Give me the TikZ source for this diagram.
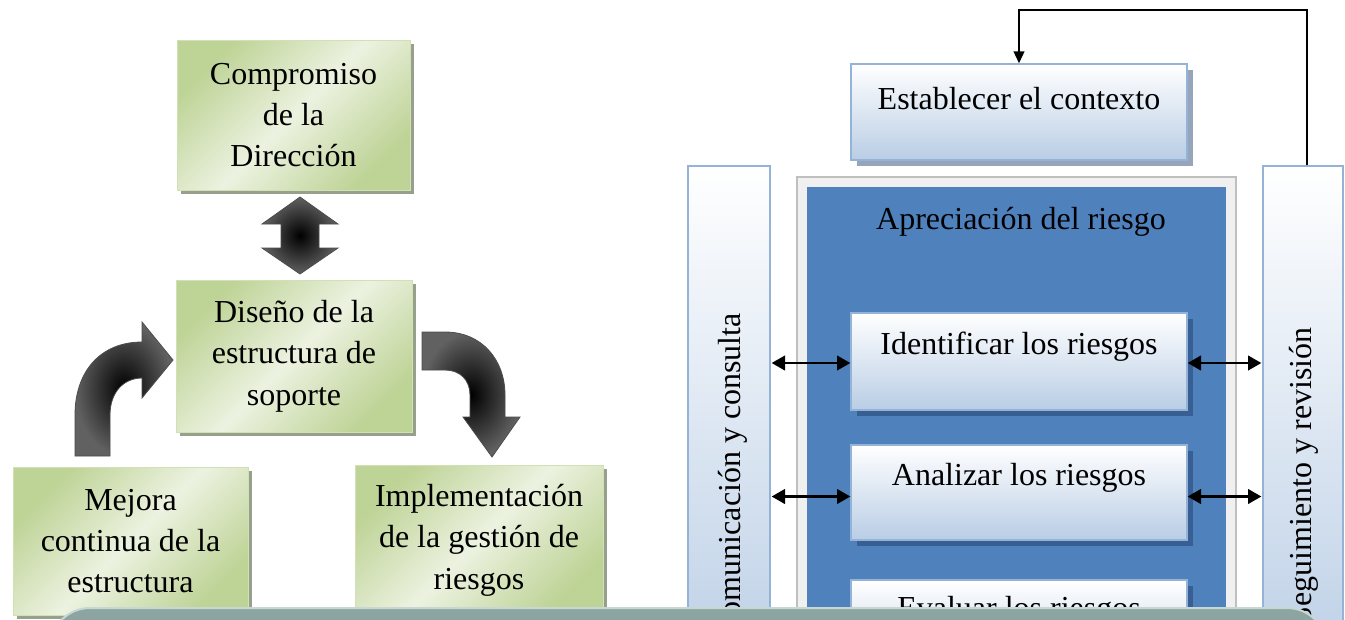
\documentclass[tikz,border=0pt]{standalone}
\usepackage{fontspec}
\setmainfont{Liberation Serif}
\usetikzlibrary{arrows.meta,shadows,calc}
\definecolor{gEdge}{RGB}{190,211,150}
\definecolor{gLight}{RGB}{236,242,224}
\definecolor{gShadow}{RGB}{150,160,140}
\definecolor{bBorder}{RGB}{149,179,215}
\definecolor{bLight}{RGB}{185,205,229}
\definecolor{bMain}{RGB}{79,129,189}
\definecolor{bShadow}{RGB}{56,95,148}
\definecolor{eShadow}{RGB}{150,164,188}
\definecolor{ovl}{RGB}{140,165,162}
\definecolor{ovlEdge}{RGB}{200,215,212}
\newcommand{\bigtxt}{\fontsize{24}{31}\selectfont}
\begin{document}
\begin{tikzpicture}[x=0.75pt,y=-0.75pt,
  gbox/.style={left color=gEdge, right color=gEdge, middle color=gLight, shading angle=45,
    draw=gEdge!70!white, line width=0.5pt, align=center, font=\bigtxt, inner sep=0pt,
    drop shadow={shadow xshift=3pt, shadow yshift=-3pt, fill=gShadow, opacity=1}},
  bbox/.style={top color=white, bottom color=bLight, draw=bBorder, line width=1pt, inner sep=0pt},
  sidepanel/.style={top color=white, bottom color=bLight, draw=bBorder, line width=1pt, inner sep=0pt},
  txt/.style={font=\bigtxt, inner sep=0pt, text=black},
  blockarrow/.style={draw=black!70, line width=0.6pt, inner color=black, outer color=black!62},
  dbl/.style={{Triangle[length=10pt,width=11pt]}-{Triangle[length=10pt,width=11pt]}, line width=1.6pt},
  fb/.style={-{Triangle[length=9pt,width=8pt]}, line width=1.5pt}]
\useasboundingbox (0,0) rectangle (1345,619);
\fill[white] (0,0) rectangle (1345,619);

% ---------- left side ----------
\node[gbox, minimum width=233*0.75pt, minimum height=150*0.75pt] (comp) at (293.5,115) {Compromiso\\de la\\Dirección};
\node[gbox, minimum width=236*0.75pt, minimum height=152*0.75pt] (dis) at (294,356) {Diseño de la\\estructura de\\soporte};
\node[gbox, minimum width=235*0.75pt, minimum height=148*0.75pt] (mej) at (130.5,541) {Mejora\\continua de la\\estructura};
\node[gbox, minimum width=248*0.75pt, minimum height=150*0.75pt] (imp) at (479,540) {Implementación\\de la gestión de\\riesgos};

% vertical double block arrow
\path[blockarrow] (300,197) -- (338,224) -- (319,224) -- (319,248) -- (338,248) -- (300,274)
  -- (262,248) -- (281,248) -- (281,224) -- (262,224) -- cycle;
% left curved arrow (up then right)
\path[blockarrow] (75,456) -- (75,415) .. controls (75,372) and (100,342) .. (142,342)
  -- (142,322) -- (173,360) -- (142,398) -- (142,378)
  .. controls (124,378) and (110,392) .. (110,415) -- (110,456) -- cycle;
% right curved arrow (right then down)
\path[blockarrow] (422,332) -- (445,332) .. controls (482,332) and (505,360) .. (505,395)
  -- (505,417) -- (520,417) -- (492,457) -- (463,417) -- (470,417) -- (470,395)
  .. controls (470,380) and (460,370) .. (445,370) -- (422,370) -- cycle;

% ---------- right side ----------
\node[sidepanel, minimum width=82*0.75pt, minimum height=534*0.75pt] (lp) at (729,433) {};
\node[sidepanel, minimum width=80*0.75pt, minimum height=534*0.75pt] (rp) at (1303,433) {};
\node[fill=black!6, draw=black!25, line width=0.8pt, inner sep=0pt,
      minimum width=439*0.75pt, minimum height=523*0.75pt] (apf) at (1016.5,438.5) {};
\node[fill=bMain, inner sep=0pt, minimum width=419*0.75pt, minimum height=513*0.75pt] (apb) at (1016.5,443.5) {};
\node[txt] (apt) at (1021,222) {Apreciación del riesgo};

\node[bbox, minimum width=336*0.75pt, minimum height=96*0.75pt,
      drop shadow={shadow xshift=4.5pt, shadow yshift=-4.5pt, fill=eShadow, opacity=1}] (est) at (1019,112) {};
\node[txt] (estT) at (1019,99) {Establecer el contexto};

\node[bbox, minimum width=336*0.75pt, minimum height=97*0.75pt,
      drop shadow={shadow xshift=4.5pt, shadow yshift=-4.5pt, fill=bShadow, opacity=1}] (idt) at (1019,361.5) {};
\node[txt] (idtT) at (1019,347) {Identificar los riesgos};
\node[bbox, minimum width=336*0.75pt, minimum height=95*0.75pt,
      drop shadow={shadow xshift=4.5pt, shadow yshift=-4.5pt, fill=bShadow, opacity=1}] (ana) at (1019,492.5) {};
\node[txt] (anaT) at (1019,478) {Analizar los riesgos};
\node[bbox, minimum width=336*0.75pt, minimum height=97*0.75pt,
      drop shadow={shadow xshift=4.5pt, shadow yshift=-4.5pt, fill=bShadow, opacity=1}] (eva) at (1019,628.5) {};
\node[txt] (evaT) at (1019,611) {Evaluar los riesgos};

% rotated side texts
\node[txt, rotate=90, anchor=base east] (lpT) at (740,313) {Comunicación y consulta};
\node[txt, rotate=90, anchor=base east] (rpT) at (1311,327) {Seguimiento y revisión};

% double arrows
\draw[dbl] ($(lp.east |- idt.west)+(1,1.5)$) -- ($(idt.west)+(0,1.5)$);
\draw[dbl] ($(lp.east |- ana.west)+(1,4)$) -- ($(ana.west)+(0,4)$);
\draw[dbl] (lp.east |- eva.west) -- (eva.west);
\draw[dbl] ($(idt.east)+(0,1.5)$) -- ($(rp.west |- idt.east)+(-1,1.5)$);
\draw[dbl] ($(ana.east)+(0,4)$) -- ($(rp.west |- ana.east)+(-1,4)$);
\draw[dbl] (eva.east) -- (rp.west |- eva.east);

% feedback line
\coordinate (fbtop) at (1160,10);
\draw[fb] ($(rp.north)+(4,0)$) |- (fbtop) -| (est.north);

% bottom overlay
\path[fill=ovl, draw=ovlEdge, line width=1.5pt, rounded corners=30pt]
  (50,740) -- (50,608) -- (1327,608) -- (1327,740) -- cycle;
\end{tikzpicture}
\end{document}
